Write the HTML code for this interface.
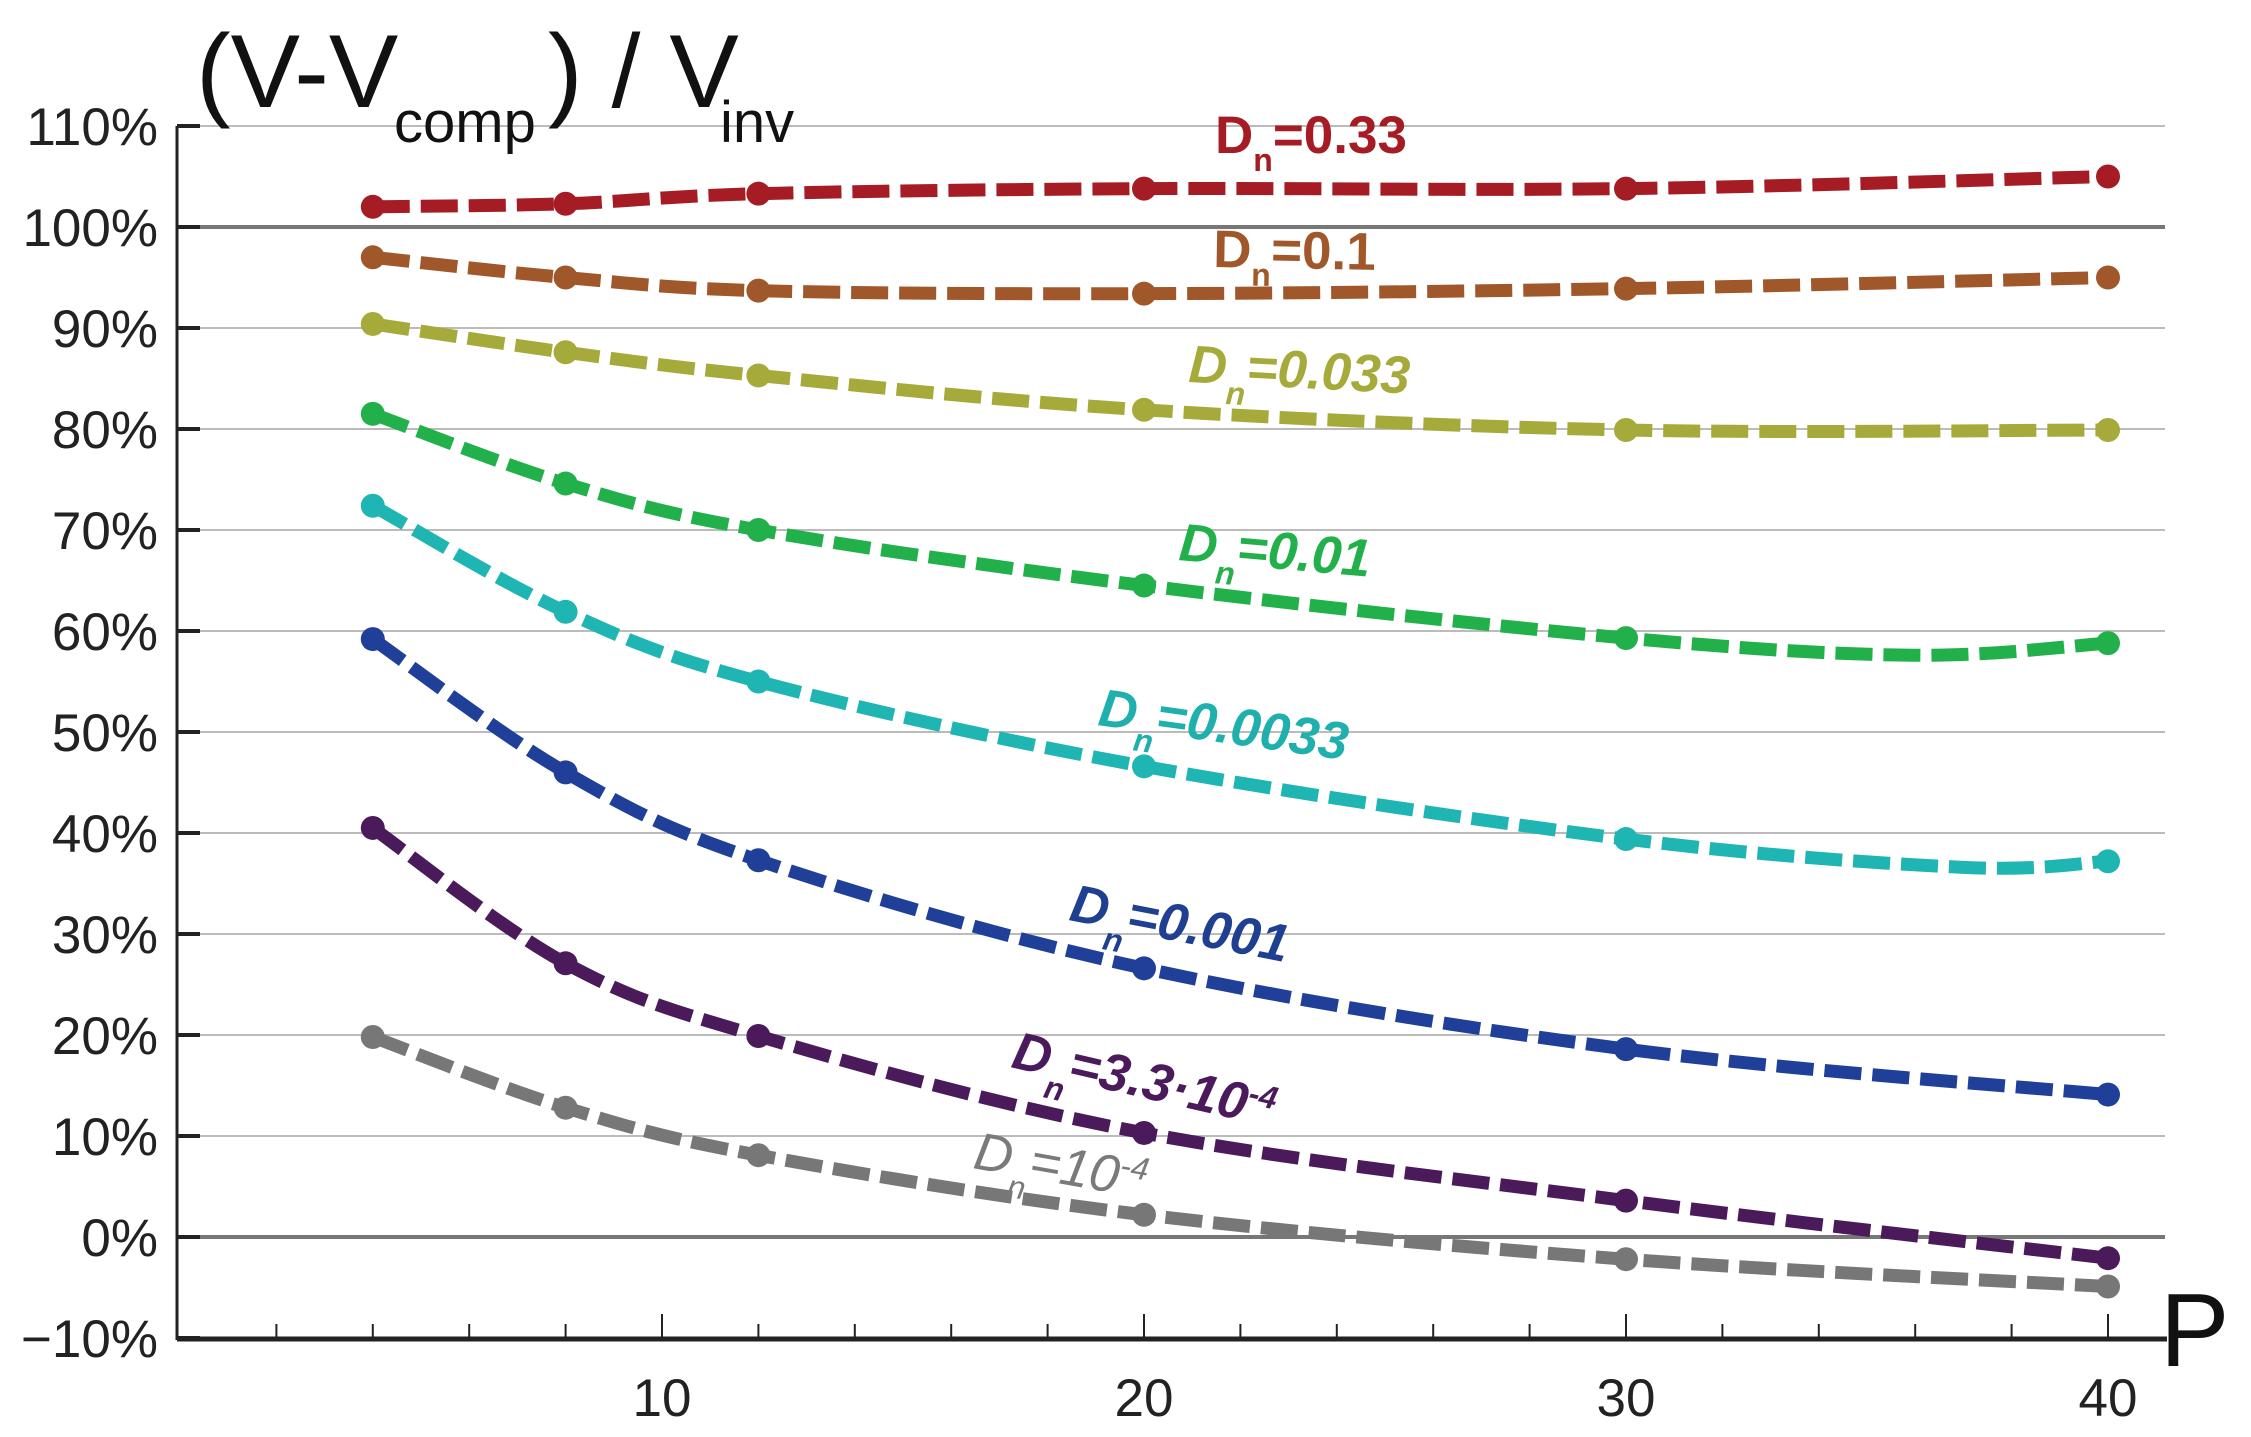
<!DOCTYPE html>
<html><head><meta charset="utf-8"><style>
html,body{margin:0;padding:0;background:#fff}
svg{display:block}
text{font-family:"Liberation Sans",Arial,sans-serif}
</style></head><body>
<svg id="s" width="2251" height="1437" viewBox="0 0 2251 1437" xmlns="http://www.w3.org/2000/svg">
<g id="grid"></g>
<g id="series"></g>
<g id="axes"></g>
<g font-size="104" fill="#111">
<text x="196" y="107">(V-V</text>
<text x="394" y="142" font-size="58">comp</text>
<text x="548" y="107">) / V</text>
<text x="720" y="142" font-size="58">inv</text>
<text x="2160" y="1366">P</text>
</g>
<g font-size="53" font-weight="bold">
<text x="1215" y="153" fill="#a51c24">D<tspan dy="18" font-size="32">n</tspan><tspan dy="-18">=0.33</tspan></text>
<text x="1213" y="267" fill="#a0572a" transform="rotate(1 1213 267)">D<tspan dy="18" font-size="32">n</tspan><tspan dy="-18">=0.1</tspan></text>
<text x="1188" y="382" fill="#a5aa3a" font-style="italic" transform="rotate(3 1188 382)">D<tspan dy="20" font-size="32">n</tspan><tspan dy="-20">=0.033</tspan></text>
<text x="1178" y="560" fill="#22b04b" font-style="italic" transform="rotate(5 1178 560)">D<tspan dy="20" font-size="32">n</tspan><tspan dy="-20">=0.01</tspan></text>
<text x="1097" y="725" fill="#1fb0ae" font-style="italic" transform="rotate(8 1097 725)">D<tspan dy="20" font-size="32">n</tspan><tspan dy="-20">=0.0033</tspan></text>
<text x="1068" y="920" fill="#1f3f90" font-style="italic" transform="rotate(11 1068 920)">D<tspan dy="22" font-size="32">n</tspan><tspan dy="-22">=0.001</tspan></text>
<text x="1010" y="1067" fill="#4a1a5a" font-style="italic" transform="rotate(13 1010 1067)">D<tspan dy="22" font-size="32">n</tspan><tspan dy="-22">=3.3·10</tspan><tspan dy="-18" font-size="32">-4</tspan></text>
<text x="972" y="1168" fill="#7a7a7a" font-style="italic" font-weight="normal" transform="rotate(10 972 1168)">D<tspan dy="22" font-size="32">n</tspan><tspan dy="-22">=10</tspan><tspan dy="-18" font-size="32">-4</tspan></text>
</g>
</svg>
<script>
var NS="http://www.w3.org/2000/svg";
function X(x){return 1144+(x-20)*48.2}
function Y(v){return 227-(v-100)*10.1}
function el(p,t,a){var e=document.createElementNS(NS,t);for(var k in a)e.setAttribute(k,a[k]);p.appendChild(e);return e}
var g=document.getElementById('grid'),ax=document.getElementById('axes'),se=document.getElementById('series');
for(var v=-10;v<=110;v+=10){
 var y=Y(v);
 if(v==100||v==0) el(g,'line',{x1:177,x2:2165,y1:y,y2:y,stroke:'#777','stroke-width':4});
 else if(v!=-10) el(g,'line',{x1:177,x2:2165,y1:y,y2:y,stroke:'#bbb','stroke-width':2});
 el(ax,'line',{x1:177,x2:200,y1:y,y2:y,stroke:'#222','stroke-width':4});
 var t=el(ax,'text',{x:158,y:y+19,'text-anchor':'end','font-size':53,fill:'#222'});
 t.textContent=(v<0?'\u221210':v)+'%';
}
el(ax,'line',{x1:177,x2:177,y1:126,y2:1340,stroke:'#222','stroke-width':3});
el(ax,'line',{x1:177,x2:2167,y1:1339,y2:1339,stroke:'#222','stroke-width':5});
for(var x=2;x<=40;x+=2){
 var px=X(x),maj=(x%10==0);
 el(ax,'line',{x1:px,x2:px,y1:1339,y2:maj?1314:1324,stroke:'#222','stroke-width':2});
 if(maj){var t=el(ax,'text',{x:px,y:1416,'text-anchor':'middle','font-size':53,fill:'#222'});t.textContent=x;}
}
var S=[
['#a51c24',[4,8,12,20,30,40],[102,102.3,103.3,103.8,103.8,105]],
['#a0572a',[4,8,12,20,30,40],[97,95,93.7,93.4,93.9,95]],
['#a5aa3a',[4,8,12,20,30,40],[90.4,87.6,85.3,81.9,79.9,79.9]],
['#22b04b',[4,8,12,20,30,36,40],[81.5,74.6,70,64.5,59.3,57.6,58.8],[0,1,2,3,4,6]],
['#1fb5b3',[4,8,12,20,30,37,40],[72.4,61.9,55,46.6,39.4,36.6,37.2],[0,1,2,3,4,6]],
['#1f3f99',[4,8,12,20,30,40],[59.2,46,37.3,26.6,18.6,14.1]],
['#4a1a5a',[4,8,12,20,30,40],[40.5,27.1,19.9,10.3,3.6,-2.1]],
['#777777',[4,8,12,20,30,40],[19.8,12.8,8.1,2.2,-2.2,-4.9]]];
S.forEach(function(s){
 var P=s[1].map(function(x,i){return [X(x),Y(s[2][i])]});
 var d='M'+P[0][0]+','+P[0][1];
 for(var i=0;i<P.length-1;i++){
  var p0=P[Math.max(i-1,0)],p1=P[i],p2=P[i+1],p3=P[Math.min(i+2,P.length-1)];
  var c1=[p1[0]+(p2[0]-p0[0])/6,p1[1]+(p2[1]-p0[1])/6],c2=[p2[0]-(p3[0]-p1[0])/6,p2[1]-(p3[1]-p1[1])/6];
  d+=' C'+c1+' '+c2+' '+p2;
 }
 el(se,'path',{d:d,fill:'none',stroke:s[0],'stroke-width':13,'stroke-dasharray':'37 11'});
 var idx=s[3]||P.map(function(_,i){return i});
 idx.forEach(function(i){var p=P[i];el(se,'circle',{cx:p[0],cy:p[1],r:12,fill:s[0]})});
});
</script>
</body></html>
